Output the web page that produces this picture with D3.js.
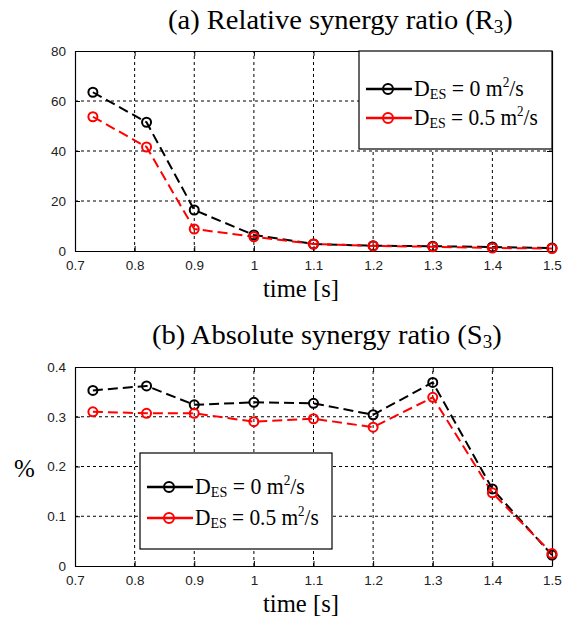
<!DOCTYPE html>
<html><head><meta charset="utf-8">
<script src="https://cdn.jsdelivr.net/npm/d3@7/dist/d3.min.js"></script>
<style>body{margin:0;background:#fff}svg{display:block}</style>
</head><body>
<svg id="c" width="564" height="623"></svg>
<script>
const times = [0.73, 0.82, 0.9, 1.0, 1.1, 1.2, 1.3, 1.4, 1.5];
const r3_D0 = [63.5, 51.5, 16.4, 6.4, 2.8, 2.1, 1.9, 1.6, 1.2];
const r3_D05 = [53.7, 41.6, 8.8, 5.7, 2.8, 2.0, 1.7, 1.2, 1.0];
const s3_D0 = [0.353, 0.362, 0.324, 0.329, 0.327, 0.304, 0.369, 0.155, 0.022];
const s3_D05 = [0.310, 0.307, 0.307, 0.290, 0.296, 0.279, 0.339, 0.147, 0.025];
const xTicks = [0.7, 0.8, 0.9, 1.0, 1.1, 1.2, 1.3, 1.4, 1.5];
const xTickLabels = ["0.7","0.8","0.9","1","1.1","1.2","1.3","1.4","1.5"];
const yTicksA = [0, 20, 40, 60, 80];
const yTicksB = [0, 0.1, 0.2, 0.3, 0.4];
const yTickLabelsB = ["0","0.1","0.2","0.3","0.4"];
const seriesNames = ["0", "0.5"];
const seriesColors = ["#000000", "#ff0000"];

const svg = d3.select("#c");
const serif = "Liberation Serif";
const sans = "Liberation Sans";

function fit(t, x0, x1) {
  const w = t.node().getBBox().width;
  const s = (x1 - x0) / w;
  t.attr("transform", `translate(${x0},0) scale(${s},1) translate(${-x0},0)`);
}

function panel(opt) {
  const x = d3.scaleLinear().domain([0.7, 1.5]).range([75, 552]);
  const y = d3.scaleLinear().domain(opt.ydom).range([opt.bottom, opt.top]);
  const g = svg.append("g");
  g.selectAll(".gx").data(xTicks.slice(1, -1)).join("line")
    .attr("x1", d => x(d)).attr("x2", d => x(d)).attr("y1", opt.bottom).attr("y2", opt.top)
    .attr("stroke", "#000").attr("stroke-width", 1).attr("stroke-dasharray", "3,3");
  g.selectAll(".gy").data(opt.yticks.slice(1, -1)).join("line")
    .attr("y1", d => y(d)).attr("y2", d => y(d)).attr("x1", 75).attr("x2", 552)
    .attr("stroke", "#000").attr("stroke-width", 1).attr("stroke-dasharray", "3,3");
  const ax = g.append("g").attr("transform", `translate(0,${opt.bottom})`)
    .call(d3.axisBottom(x).tickValues(xTicks).tickFormat((d, i) => xTickLabels[i]).tickSizeInner(-5).tickSizeOuter(0).tickPadding(9));
  const ax2 = g.append("g").attr("transform", `translate(0,${opt.top})`)
    .call(d3.axisTop(x).tickValues(xTicks).tickFormat("").tickSizeInner(-5).tickSizeOuter(0));
  const ay = g.append("g").attr("transform", `translate(75,0)`)
    .call(d3.axisLeft(y).tickValues(opt.yticks).tickFormat((d, i) => opt.ylabels[i]).tickSizeInner(-5).tickSizeOuter(0).tickPadding(9));
  const ay2 = g.append("g").attr("transform", `translate(552,0)`)
    .call(d3.axisRight(y).tickValues(opt.yticks).tickFormat("").tickSizeInner(-5).tickSizeOuter(0));
  [ax, ax2, ay, ay2].forEach(a => {
    a.select(".domain").attr("stroke", "#000").attr("stroke-width", 1.2);
    a.selectAll("text").attr("font-family", sans).attr("font-size", 13.5).attr("fill", "#222");
  });
  const sets = [opt.s0, opt.s1];
  sets.forEach((vals, si) => {
    const line = d3.line().x((d, i) => x(times[i])).y(d => y(d));
    g.append("path").datum(vals).attr("d", line).attr("fill", "none")
      .attr("stroke", seriesColors[si]).attr("stroke-width", 2).attr("stroke-dasharray", "10,5");
  });
  sets.forEach((vals, si) => {
    g.selectAll(null).data(vals).join("circle")
      .attr("cx", (d, i) => x(times[i])).attr("cy", d => y(d)).attr("r", 4.5)
      .attr("fill", "none").attr("stroke", seriesColors[si]).attr("stroke-width", 2);
  });
  const L = opt.legend;
  g.append("rect").attr("x", L.x).attr("y", L.y).attr("width", L.w).attr("height", L.h)
    .attr("fill", "#fff").attr("stroke", "#000").attr("stroke-width", 1.2);
  seriesNames.forEach((nm, i) => {
    const cy = L.y + L.r0 + i * L.dy;
    g.append("line").attr("x1", L.x + 7).attr("x2", L.x + 53).attr("y1", cy).attr("y2", cy)
      .attr("stroke", seriesColors[i]).attr("stroke-width", 2.5);
    g.append("circle").attr("cx", L.x + 29).attr("cy", cy).attr("r", 5)
      .attr("fill", "none").attr("stroke", seriesColors[i]).attr("stroke-width", 2);
    const t = g.append("text").attr("x", L.x + 55).attr("y", cy + 7)
      .attr("font-family", serif).attr("font-size", 23).attr("fill", "#000");
    t.append("tspan").text("D");
    t.append("tspan").text("ES").attr("font-size", 15).attr("dy", 3);
    t.append("tspan").text(" = " + nm + " m").attr("dy", -3);
    t.append("tspan").text("2").attr("font-size", 14).attr("dy", -9);
    t.append("tspan").text("/s").attr("dy", 9);
    fit(t, L.x + 55, L.x + 55 + L.tw[i]);
  });
  const tt = svg.append("text").attr("x", opt.titleX0).attr("y", opt.titleY)
    .attr("font-family", serif).attr("font-size", 27).attr("fill", "#000");
  tt.append("tspan").text(opt.title);
  tt.append("tspan").text("3").attr("font-size", 18).attr("dy", 4);
  tt.append("tspan").text(")").attr("dy", -4);
  fit(tt, opt.titleX0, opt.titleX1);
  const xl = svg.append("text").attr("x", 263).attr("y", opt.bottom + 46)
    .attr("font-family", serif).attr("font-size", 26).attr("fill", "#000").text("time [s]");
  fit(xl, 263, 339);
  return g;
}

panel({ydom: [0, 80], top: 51, bottom: 251, yticks: yTicksA, ylabels: yTicksA.map(String),
  s0: r3_D0, s1: r3_D05, title: "(a) Relative synergy ratio (R", titleX0: 168, titleX1: 513, titleY: 29,
  legend: {x: 359, y: 51, w: 193, h: 98, r0: 38, dy: 29, tw: [110, 124]}});
panel({ydom: [0, 0.4], top: 367, bottom: 566, yticks: yTicksB, ylabels: yTickLabelsB,
  s0: s3_D0, s1: s3_D05, title: "(b) Absolute synergy ratio (S", titleX0: 152, titleX1: 502, titleY: 344,
  legend: {x: 140, y: 453, w: 192, h: 96, r0: 34, dy: 31, tw: [110, 124]}});
svg.append("text").attr("x", 14).attr("y", 477).attr("font-family", serif).attr("font-size", 25).text("%");
</script>
</body></html>
